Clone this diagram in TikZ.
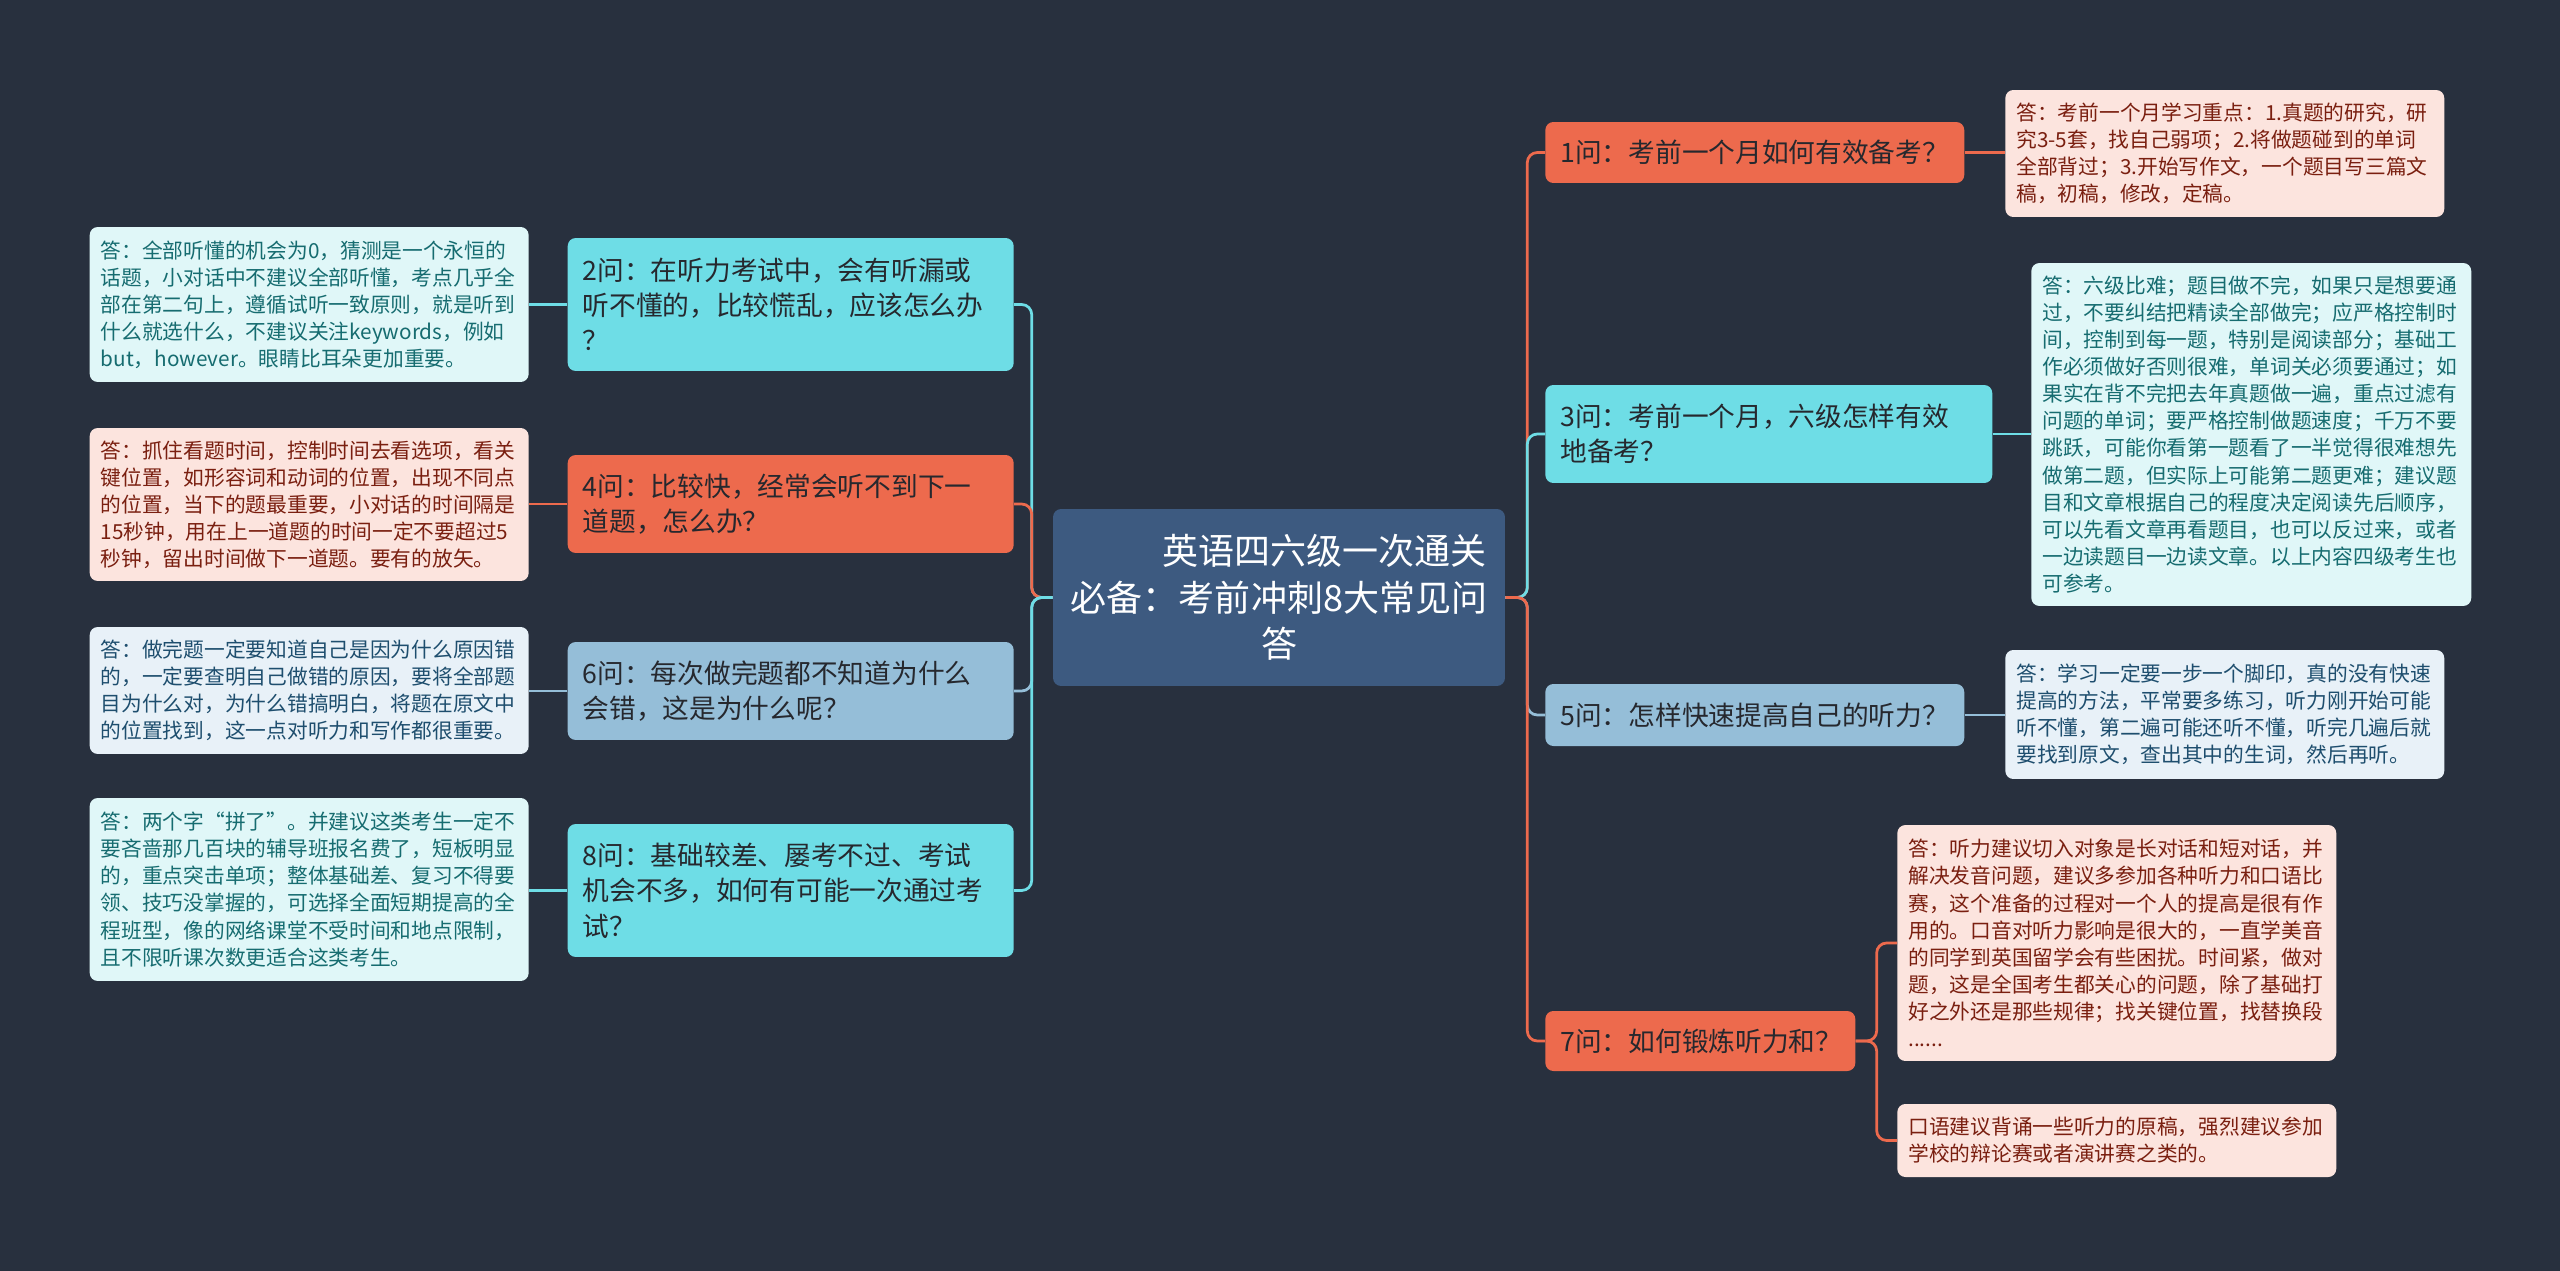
\documentclass[tikz,border=0pt]{standalone}
\usepackage{fontspec}
\usepackage{xcolor}
\newfontfamily\cjk{Noto Sans CJK SC}
\definecolor{bgdark}{RGB}{40,48,62}
\definecolor{rootblue}{RGB}{61,90,128}
\definecolor{qorange}{RGB}{237,106,77}
\definecolor{qcyan}{RGB}{110,221,230}
\definecolor{qblue}{RGB}{149,190,216}
\definecolor{qtext}{RGB}{38,40,46}
\definecolor{apink}{RGB}{252,228,222}
\definecolor{acyan}{RGB}{224,247,248}
\definecolor{ablue}{RGB}{232,241,248}
\definecolor{tred}{RGB}{122,31,16}
\definecolor{tteal}{RGB}{22,108,112}
\definecolor{tnavy}{RGB}{30,78,110}
\tikzset{root/.style={fill=rootblue, text=white, rounded corners=0.16cm, align=center,
   font=\cjk\fontsize{20.5}{26.6}\selectfont, minimum width=9.04cm, minimum height=3.54cm},
 ques/.style={rounded corners=0.16cm, align=left, text=qtext, inner xsep=0.3cm, inner ysep=0.1cm,
   font=\cjk\fontsize{15.2}{20.1}\selectfont},
 ans/.style={rounded corners=0.16cm, align=left, inner xsep=0.22cm, inner ysep=0.1cm,
   text width=8.34cm, font=\cjk\fontsize{11.8}{15.4}\selectfont},
 qo/.style={ques, fill=qorange},
 qc/.style={ques, fill=qcyan},
 qb/.style={ques, fill=qblue},
 ap/.style={ans, fill=apink, text=tred},
 ac/.style={ans, fill=acyan, text=tteal},
 ab/.style={ans, fill=ablue, text=tnavy},
 link/.style={line width=0.055cm, rounded corners=0.2cm},
 }

\begin{document}
\begin{tikzpicture}[x=0.02cm, y=-0.02cm]
        \useasboundingbox (0,0) rectangle (2560,1271);
        \fill[bgdark] (0,0) rectangle (2560,1271);

        \node[root] (root) at (1279,597.5) {\hspace*{2.55em}英语四六级一次通关\\必备：考前冲刺8大常见问\\答};

        \node[qc, anchor=east, text width=8.32cm, minimum height=2.66cm] (q2) at (1014,304.5) {2问：在听力考试中，会有听漏或\\听不懂的，比较慌乱，应该怎么办\\？};
        \node[qo, anchor=east, text width=8.32cm, minimum height=1.96cm] (q4) at (1014,504) {4问：比较快，经常会听不到下一\\道题，怎么办？};
        \node[qb, anchor=east, text width=8.32cm, minimum height=1.96cm] (q6) at (1014,691) {6问：每次做完题都不知道为什么\\会错，这是为什么呢？};
        \node[qc, anchor=east, text width=8.32cm, minimum height=2.66cm] (q8) at (1014,890.5) {8问：基础较差、屡考不过、考试\\机会不多，如何有可能一次通过考\\试？};

        \node[qo, anchor=west, text width=7.78cm, minimum height=1.22cm] (q1) at (1545,152.5) {1问：考前一个月如何有效备考？};
        \node[qc, anchor=west, text width=8.34cm, minimum height=1.96cm] (q3) at (1545,434) {3问：考前一个月，六级怎样有效\\地备考？};
        \node[qb, anchor=west, text width=7.78cm, minimum height=1.24cm] (q5) at (1545,715) {5问：怎样快速提高自己的听力？};
        \node[qo, anchor=west, text width=5.6cm, minimum height=1.2cm] (q7) at (1545,1041) {7问：如何锻炼听力和？};

        \node[ac, anchor=east, minimum height=3.1cm] (a2) at (529,304.5) {答：全部听懂的机会为0，猜测是一个永恒的\\话题，小对话中不建议全部听懂，考点几乎全\\部在第二句上，遵循试听一致原则，就是听到\\什么就选什么，不建议关注keywords，例如\\but，however。眼睛比耳朵更加重要。};
        \node[ap, anchor=east, minimum height=3.06cm] (a4) at (529,504.5) {答：抓住看题时间，控制时间去看选项，看关\\键位置，如形容词和动词的位置，出现不同点\\的位置，当下的题最重要，小对话的时间隔是\\15秒钟，用在上一道题的时间一定不要超过5\\秒钟，留出时间做下一道题。要有的放矢。};
        \node[ab, anchor=east, minimum height=2.54cm] (a6) at (529,690.5) {答：做完题一定要知道自己是因为什么原因错\\的，一定要查明自己做错的原因，要将全部题\\目为什么对，为什么错搞明白，将题在原文中\\的位置找到，这一点对听力和写作都很重要。};
        \node[ac, anchor=east, minimum height=3.66cm] (a8) at (529,889.5) {答：两个字“拼了”。并建议这类考生一定不\\要吝啬那几百块的辅导班报名费了，短板明显\\的，重点突击单项；整体基础差、复习不得要\\领、技巧没掌握的，可选择全面短期提高的全\\程班型，像的网络课堂不受时间和地点限制，\\且不限听课次数更适合这类考生。};

        \node[ap, anchor=west, minimum height=2.54cm] (a1) at (2005,153.5) {答：考前一个月学习重点：1.真题的研究，研\\究3-5套，找自己弱项；2.将做题碰到的单词\\全部背过；3.开始写作文，一个题目写三篇文\\稿，初稿，修改，定稿。};
        \node[ac, anchor=west, text width=8.36cm, minimum height=6.86cm] (a3) at (2031,434.5) {答：六级比难；题目做不完，如果只是想要通\\过，不要纠结把精读全部做完；应严格控制时\\间，控制到每一题，特别是阅读部分；基础工\\作必须做好否则很难，单词关必须要通过；如\\果实在背不完把去年真题做一遍，重点过滤有\\问题的单词；要严格控制做题速度；千万不要\\跳跃，可能你看第一题看了一半觉得很难想先\\做第二题，但实际上可能第二题更难；建议题\\目和文章根据自己的程度决定阅读先后顺序，\\可以先看文章再看题目，也可以反过来，或者\\一边读题目一边读文章。以上内容四级考生也\\可参考。};
        \node[ab, anchor=west, minimum height=2.58cm] (a5) at (2005,714.5) {答：学习一定要一步一个脚印，真的没有快速\\提高的方法，平常要多练习，听力刚开始可能\\听不懂，第二遍可能还听不懂，听完几遍后就\\要找到原文，查出其中的生词，然后再听。};
        \node[ap, anchor=west, minimum height=4.72cm] (a7a) at (1897,943) {答：听力建议切入对象是长对话和短对话，并\\解决发音问题，建议多参加各种听力和口语比\\赛，这个准备的过程对一个人的提高是很有作\\用的。口音对听力影响是很大的，一直学美音\\的同学到英国留学会有些困扰。时间紧，做对\\题，这是全国考生都关心的问题，除了基础打\\好之外还是那些规律；找关键位置，找替换段\\......};
        \node[ap, anchor=west, minimum height=1.46cm] (a7b) at (1897,1140.5) {口语建议背诵一些听力的原稿，强烈建议参加\\学校的辩论赛或者演讲赛之类的。};

        \draw[link, qcyan] (root.west) -- ++(-21,0) |- (q2.east);
        \draw[link, qorange] (root.west) -- ++(-21,0) |- (q4.east);
        \draw[link, qblue] (root.west) -- ++(-21,0) |- (q6.east);
        \draw[link, qcyan] (root.west) -- ++(-21,0) |- (q8.east);
        \draw[link, qorange] (root.east) -- ++(22,0) |- (q1.west);
        \draw[link, qcyan] (root.east) -- ++(22,0) |- (q3.west);
        \draw[link, qblue] (root.east) -- ++(22,0) |- (q5.west);
        \draw[link, qorange] (root.east) -- ++(22,0) |- (q7.west);

        \draw[link, qcyan] (q2.west) -- (a2.east |- q2.west);
        \draw[link, qorange] (q4.west) -- (a4.east |- q4.west);
        \draw[link, qblue] (q6.west) -- (a6.east |- q6.west);
        \draw[link, qcyan] (q8.west) -- (a8.east |- q8.west);
        \draw[link, qorange] (q1.east) -- (a1.west |- q1.east);
        \draw[link, qcyan] (q3.east) -- (a3.west |- q3.east);
        \draw[link, qblue] (q5.east) -- (a5.west |- q5.east);
        \draw[link, qorange] (q7.east) -- ++(21,0) |- (a7a.west);
        \draw[link, qorange] (q7.east) -- ++(21,0) |- (a7b.west);
    \end{tikzpicture}
\end{document}
